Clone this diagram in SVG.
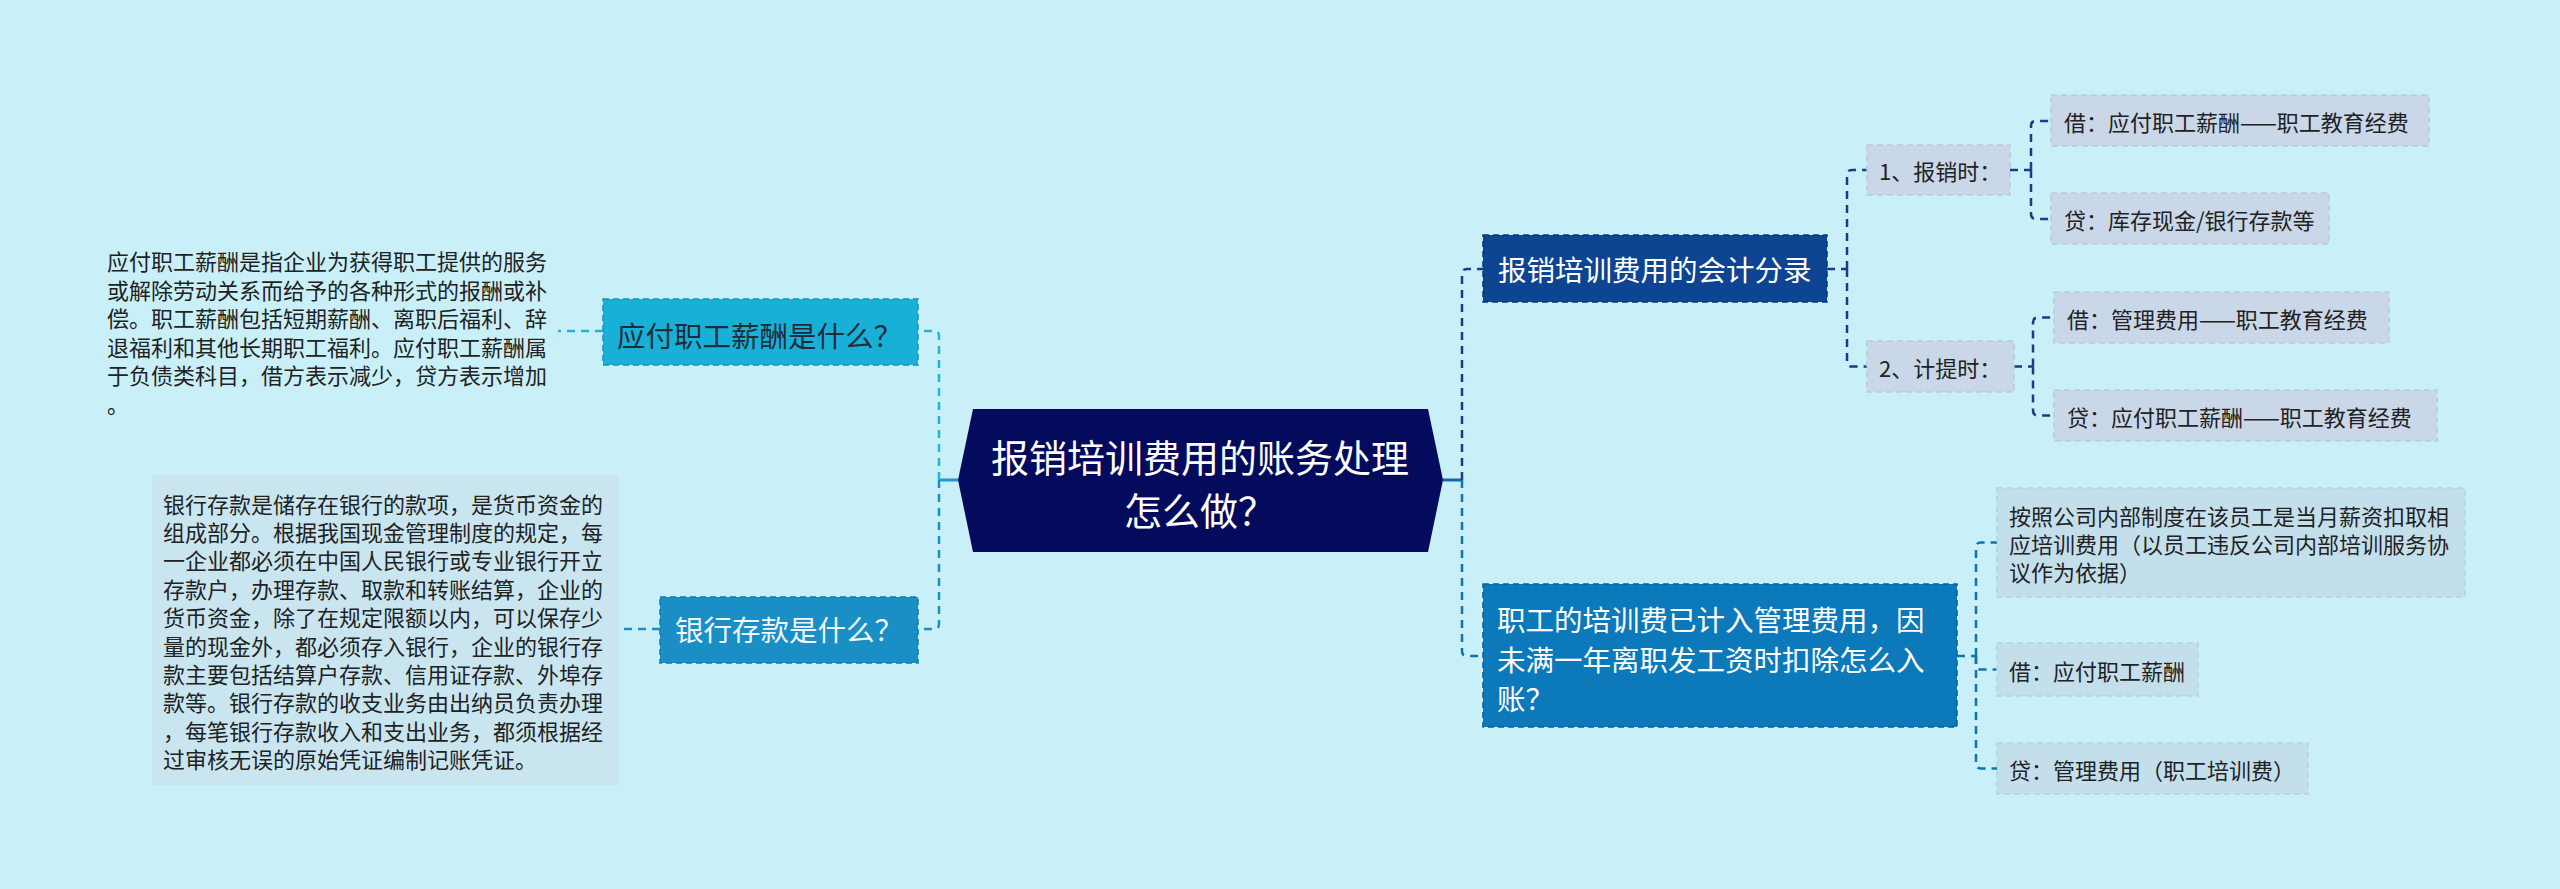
<svg xmlns="http://www.w3.org/2000/svg" width="2560" height="889" viewBox="0 0 2560 889">
<style>
text{font-family:"Noto Sans CJK SC","Noto Sans",sans-serif;dominant-baseline:central}
.c{fill:none;stroke-width:2.5;stroke-dasharray:8 6}
.cs{fill:none;stroke-width:3}
.t22{font-size:22px;fill:#222}
.leafA{fill:#c9d7e9;stroke:#b9cade;stroke-width:1.5;stroke-dasharray:6 4}
.leafB{fill:#c4dfec;stroke:#b4d2e2;stroke-width:1.5;stroke-dasharray:6 4}
.w{fill:#ffffff}
.n1{font-size:28.5px}
</style>
<rect width="2560" height="889" fill="#c9f0f8"/>
<g id="connectors">
<path class="cs" stroke="#1a9ac8" d="M958,480 H939"/>
<path class="c" stroke="#21b3d9" d="M939,480 V336 Q939,331 934,331 H919"/>
<path class="c" stroke="#1a8fc6" d="M939,480 V624 Q939,629 934,629 H919"/>
<path class="c" stroke="#21b3d9" d="M603,331 H558"/>
<path class="c" stroke="#1a8fc6" d="M660,629 H619"/>
<path class="cs" stroke="#1466a8" d="M1443,480 H1462"/>
<path class="c" stroke="#123f86" d="M1462,480 V274 Q1462,269 1467,269 H1483"/>
<path class="c" stroke="#0e74b0" d="M1462,480 V651 Q1462,656 1467,656 H1483"/>
<path class="c" stroke="#123f86" d="M1827,269 H1847"/>
<path class="c" stroke="#123f86" d="M1847,269 V175 Q1847,170 1852,170 H1867"/>
<path class="c" stroke="#123f86" d="M1847,269 V361.5 Q1847,366.5 1852,366.5 H1867"/>
<path class="c" stroke="#123f86" d="M2010,170 H2031"/>
<path class="c" stroke="#123f86" d="M2031,170 V126 Q2031,121 2036,121 H2051"/>
<path class="c" stroke="#123f86" d="M2031,170 V214 Q2031,219 2036,219 H2051"/>
<path class="c" stroke="#123f86" d="M2014,366.5 H2033"/>
<path class="c" stroke="#123f86" d="M2033,366.5 V322.5 Q2033,317.5 2038,317.5 H2054"/>
<path class="c" stroke="#123f86" d="M2033,366.5 V410.5 Q2033,415.5 2038,415.5 H2054"/>
<path class="c" stroke="#0e74b0" d="M1957,656 H1976"/>
<path class="c" stroke="#0e74b0" d="M1976,656 V547.5 Q1976,542.5 1981,542.5 H1997"/>
<path class="c" stroke="#0e74b0" d="M1976,656 V664.5 Q1976,669.5 1981,669.5 H1997"/>
<path class="c" stroke="#0e74b0" d="M1976,656 V763.5 Q1976,768.5 1981,768.5 H1997"/>
</g>
<g id="root">
<polygon points="973,409 1428,409 1443,480 1428,552 973,552 958,480" fill="#050b5c"/>
<text class="w" x="1200" y="455" font-size="38" text-anchor="middle">报销培训费用的账务处理</text>
<text class="w" x="1200" y="508" font-size="38" text-anchor="middle">怎么做？</text>
</g>
<g id="node-yingfu">
<rect x="603" y="299" width="315" height="66" fill="#19b0d7" stroke="#1592b8" stroke-width="1.5" stroke-dasharray="6 4"/>
<text class="n1" x="617" y="334" fill="#1e2d3a">应付职工薪酬是什么？</text>
</g>
<g id="desc-yingfu">
<text class="t22" x="107" y="260">应付职工薪酬是指企业为获得职工提供的服务</text>
<text class="t22" x="107" y="288.5">或解除劳动关系而给予的各种形式的报酬或补</text>
<text class="t22" x="107" y="317">偿。职工薪酬包括短期薪酬、离职后福利、辞</text>
<text class="t22" x="107" y="345.5">退福利和其他长期职工福利。应付职工薪酬属</text>
<text class="t22" x="107" y="374">于负债类科目，借方表示减少，贷方表示增加</text>
<text class="t22" x="107" y="402.5">。</text>
</g>
<g id="node-yinhang">
<rect x="660" y="597" width="258" height="66" fill="#1a8fc6" stroke="#1479ad" stroke-width="1.5" stroke-dasharray="6 4"/>
<text class="n1" x="675" y="628" fill="#f2f8fc">银行存款是什么？</text>
</g>
<g id="desc-yinhang">
<rect x="152" y="475" width="467" height="310" fill="#c9e6f0"/>
<text class="t22" x="163" y="502.5">银行存款是储存在银行的款项，是货币资金的</text>
<text class="t22" x="163" y="530.9">组成部分。根据我国现金管理制度的规定，每</text>
<text class="t22" x="163" y="559.3">一企业都必须在中国人民银行或专业银行开立</text>
<text class="t22" x="163" y="587.7">存款户，办理存款、取款和转账结算，企业的</text>
<text class="t22" x="163" y="616.1">货币资金，除了在规定限额以内，可以保存少</text>
<text class="t22" x="163" y="644.5">量的现金外，都必须存入银行，企业的银行存</text>
<text class="t22" x="163" y="672.9">款主要包括结算户存款、信用证存款、外埠存</text>
<text class="t22" x="163" y="701.3">款等。银行存款的收支业务由出纳员负责办理</text>
<text class="t22" x="163" y="729.7">，每笔银行存款收入和支出业务，都须根据经</text>
<text class="t22" x="163" y="758.1">过审核无误的原始凭证编制记账凭证。</text>
</g>
<g id="node-fenlu">
<rect x="1483" y="235" width="344" height="67" fill="#0d4592" stroke="#0a3570" stroke-width="1.5" stroke-dasharray="6 4"/>
<text class="w n1" x="1498" y="268">报销培训费用的会计分录</text>
</g>
<g id="node-baoxiao">
<rect class="leafA" x="1867" y="145" width="143" height="50"/>
<text class="t22" x="1879" y="170">1、报销时：</text>
</g>
<g id="leaf-jie1">
<rect class="leafA" x="2051" y="95" width="378" height="51"/>
<text class="t22" x="2064" y="121">借：应付职工薪酬——职工教育经费</text>
</g>
<g id="leaf-dai1">
<rect class="leafA" x="2051" y="193" width="278" height="51"/>
<text class="t22" x="2064" y="219">贷：库存现金/银行存款等</text>
</g>
<g id="node-jiti">
<rect class="leafA" x="1867" y="341" width="147" height="51"/>
<text class="t22" x="1879" y="366.5">2、计提时：</text>
</g>
<g id="leaf-jie2">
<rect class="leafA" x="2054" y="292" width="335" height="51"/>
<text class="t22" x="2067" y="317.5">借：管理费用——职工教育经费</text>
</g>
<g id="leaf-dai2">
<rect class="leafA" x="2054" y="390" width="383" height="51"/>
<text class="t22" x="2067" y="415.5">贷：应付职工薪酬——职工教育经费</text>
</g>
<g id="node-peixunfei">
<rect x="1483" y="584" width="474" height="143" fill="#0b79ba" stroke="#0a5f92" stroke-width="1.5" stroke-dasharray="6 4"/>
<text class="w n1" x="1497" y="618">职工的培训费已计入管理费用，因</text>
<text class="w n1" x="1497" y="658">未满一年离职发工资时扣除怎么入</text>
<text class="w n1" x="1497" y="697">账？</text>
</g>
<g id="leaf-anzhao">
<rect class="leafB" x="1997" y="488" width="468" height="109"/>
<text class="t22" x="2009" y="515">按照公司内部制度在该员工是当月薪资扣取相</text>
<text class="t22" x="2009" y="543">应培训费用（以员工违反公司内部培训服务协</text>
<text class="t22" x="2009" y="571">议作为依据）</text>
</g>
<g id="leaf-jie3">
<rect class="leafB" x="1997" y="643" width="201" height="53"/>
<text class="t22" x="2009" y="670">借：应付职工薪酬</text>
</g>
<g id="leaf-dai3">
<rect class="leafB" x="1997" y="743" width="311" height="51"/>
<text class="t22" x="2009" y="768.5">贷：管理费用（职工培训费）</text>
</g>
</svg>
